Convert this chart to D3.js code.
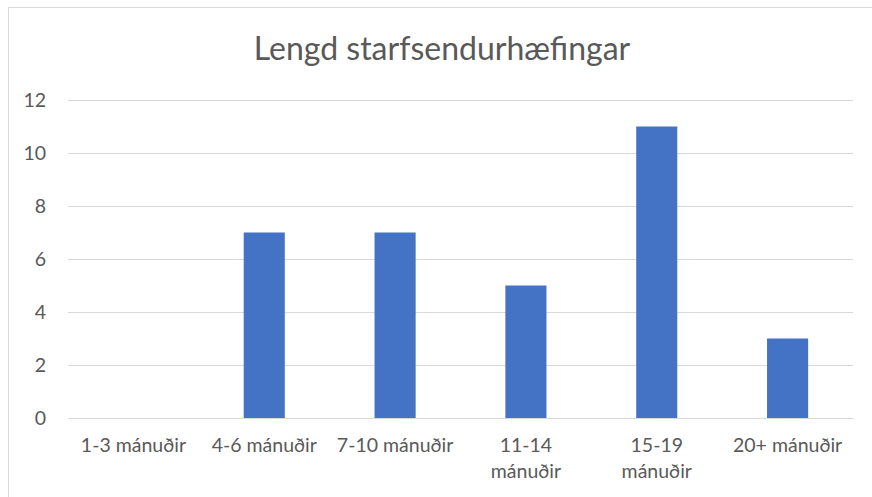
<!DOCTYPE html>
<html><head><meta charset="utf-8">
<script src="https://cdn.jsdelivr.net/npm/d3@7"></script>
<style>body{margin:0;background:#fff}svg{display:block}</style>
</head><body>
<svg id="c" width="872" height="497"></svg>
<script>
const title = "Lengd starfsendurhæfingar";
const categories = ["1-3 mánuðir","4-6 mánuðir","7-10 mánuðir","11-14 mánuðir","15-19 mánuðir","20+ mánuðir"];
const tickLabelLines = [["1-3 mánuðir"],["4-6 mánuðir"],["7-10 mánuðir"],["11-14","mánuðir"],["15-19","mánuðir"],["20+ mánuðir"]];
const values = [0,7,7,5,11,3];
const yTicks = [0,2,4,6,8,10,12];

const svg = d3.select("#c");
const font = "Lato, 'Open Sans', sans-serif";
const textColor = "#595959";

// chart border
svg.append("rect").attr("x",8.5).attr("y",7.5).attr("width",872).attr("height",500)
  .attr("fill","#fff").attr("stroke","#d9d9d9").attr("stroke-width",1);

const x = d3.scaleBand().domain(categories).range([68,853]).padding(0);
const y = d3.scaleLinear().domain([0,12]).range([418,100]);

// title
svg.append("text").attr("x",442).attr("y",60).attr("text-anchor","middle")
  .attr("font-family",font).attr("font-size",32).attr("fill",textColor).text(title);

// gridlines
const yAxis = d3.axisLeft(y).tickValues(yTicks).tickSize(-(853-68)).tickPadding(22).tickFormat(d3.format("d"));
const gy = svg.append("g").attr("transform","translate(68,0)").call(yAxis);
gy.select(".domain").remove();
gy.selectAll(".tick line").attr("stroke","#d9d9d9").attr("stroke-width",1);
gy.selectAll(".tick text").attr("font-family",font).attr("font-size",19.5).attr("fill",textColor);

// bars
const bw = x.bandwidth()*0.314;
svg.append("g").selectAll("rect").data(values).join("rect")
  .attr("x",(d,i)=>x(categories[i])+x.bandwidth()/2-bw/2)
  .attr("y",d=>y(d)).attr("width",bw).attr("height",d=>y(0)-y(d))
  .attr("fill","#4472C4");

// x axis
const xAxis = d3.axisBottom(x).tickSize(0).tickPadding(0).tickFormat(()=> "");
const gx = svg.append("g").attr("transform","translate(0,418)").call(xAxis);
gx.select(".domain").attr("stroke","#d9d9d9");
gx.selectAll(".tick").each(function(d,i){
  const t = d3.select(this).select("text").text(null)
    .attr("font-family",font).attr("font-size",19.5).attr("fill",textColor).attr("y",0).attr("dy",null);
  tickLabelLines[i].forEach((ln,j)=>{
    t.append("tspan").attr("x",0).attr("y",34+j*26).text(ln);
  });
});
</script>
</body></html>
